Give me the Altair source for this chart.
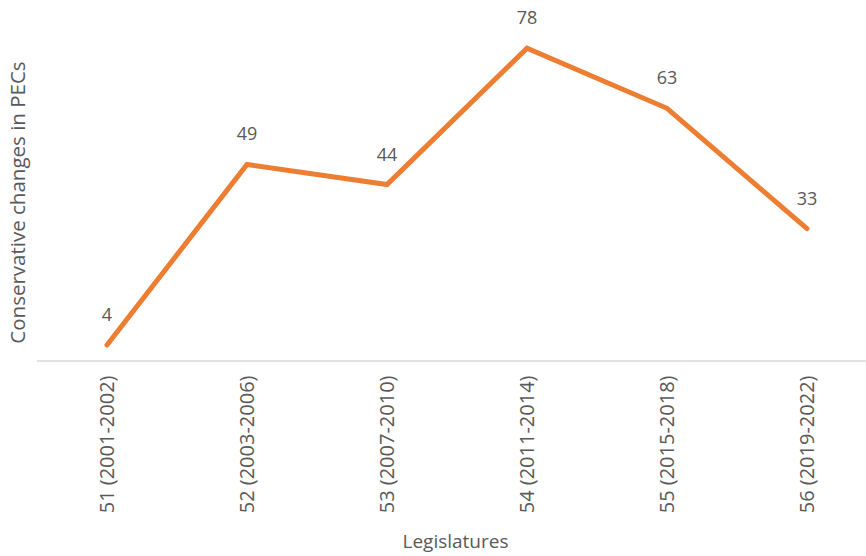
import altair as alt
import pandas as pd

legislatures = ["51 (2001-2002)", "52 (2003-2006)", "53 (2007-2010)",
                "54 (2011-2014)", "55 (2015-2018)", "56 (2019-2022)"]
changes = [4, 49, 44, 78, 63, 33]

df = pd.DataFrame({"leg": legislatures, "val": changes})

FONT = "Open Sans"
GRAY = "#595959"
ORANGE = "#ED7D31"
W, H = 829, 361

x = alt.X("leg:N", sort=legislatures,
          scale=alt.Scale(type="point", range=[70, 770], padding=0),
          axis=alt.Axis(title="Legislatures", labelAngle=-90, labelPadding=14,
                        domain=False, ticks=False, labelFont=FONT, labelFontSize=20,
                        labelColor=GRAY, titleFont=FONT, titleFontSize=19,
                        titleFontWeight="normal", titleColor=GRAY,
                        titleY=180, titleX=418, titleBaseline="middle"))
y = alt.Y("val:Q", scale=alt.Scale(domain=[0, 90]),
          axis=alt.Axis(title="Conservative changes in PECs", domain=False, ticks=False,
                        labels=False, grid=False, titleFont=FONT, titleFontSize=20.5,
                        titleFontWeight="normal", titleColor=GRAY,
                        titleX=-19, titleY=202, titleAngle=-90,
                        titleAlign="center", titleBaseline="middle"))

base = alt.Chart(df)
line = base.mark_line(color=ORANGE, strokeWidth=5, strokeCap="round", strokeJoin="miter").encode(x=x, y=y)
labels = base.mark_text(font=FONT, fontSize=18, color=GRAY, dy=-29, baseline="middle").encode(
    x=x, y=y, text="val:Q")
rule = alt.Chart(pd.DataFrame({"a": [0]})).mark_rule(color="#d9d9d9", strokeWidth=1.5).encode(
    x=alt.value(0), x2=alt.value(W), y=alt.value(H))

chart = alt.layer(rule, line, labels).properties(
    width=W, height=H,
    autosize=alt.AutoSizeParams(type="none"),
    padding={"left": 37, "top": 0, "right": 0, "bottom": 556 - H},
    background="white",
).configure_view(stroke=None)

chart.save("out.html", embed_options={"renderer": "svg", "actions": False})
